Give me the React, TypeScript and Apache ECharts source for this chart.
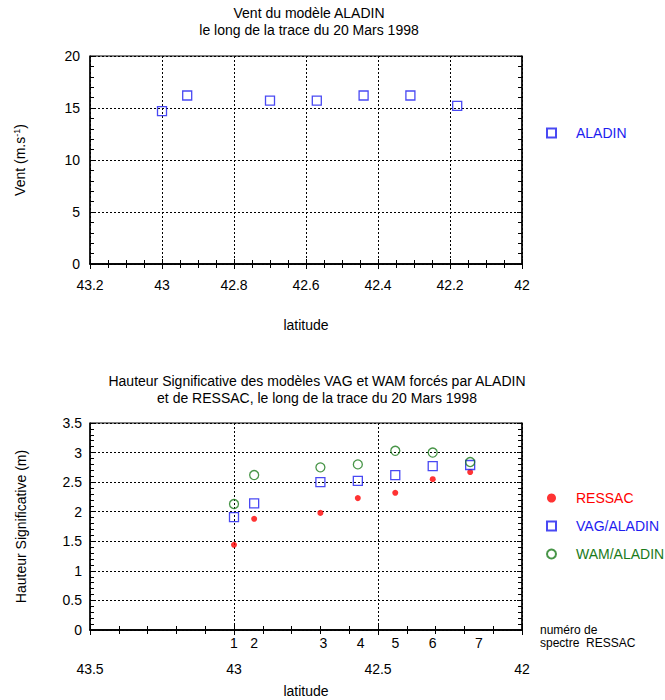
import React, { useEffect, useRef } from "react";
import * as echarts from "echarts";

// ---- Data ----
const latitudes = [43.0, 42.93, 42.7, 42.57, 42.44, 42.31, 42.18];
const aladinWind = [14.7, 16.2, 15.7, 15.7, 16.2, 16.2, 15.2];
const ressacHs = [1.44, 1.88, 1.98, 2.23, 2.32, 2.55, 2.67];
const vagHs = [1.91, 2.14, 2.5, 2.52, 2.62, 2.77, 2.79];
const wamHs = [2.13, 2.62, 2.75, 2.8, 3.03, 3.0, 2.84];
const spectrumNumbers = ["1", "2", "3", "4", "5", "6", "7"];
const spectrumLabelLat = [43.0, 42.93, 42.69, 42.56, 42.44, 42.31, 42.15];

const topTitle = "Vent du modèle ALADIN\nle long de la trace du 20 Mars 1998";
const bottomTitle =
  "Hauteur Significative des modèles VAG et WAM forcés par ALADIN\net de RESSAC, le long de la trace du 20 Mars 1998";

const FONT = "'Liberation Sans', Arial, sans-serif";
const RED = "#ff0000";
const BLUE = "#1c1cf0";
const GREEN = "#1a7a1a";

const pairs = (ys: number[]) => latitudes.map((x, i) => [x, ys[i]]);

const dashed = { show: true, lineStyle: { color: "#000", width: 1, type: [2, 2] as any } };
const axisLineBlack = { show: true, lineStyle: { color: "#000", width: 1.5 } };
const labelStyle = { color: "#000", fontSize: 14, fontFamily: FONT };

function tickAxis(extra: any) {
  return {
    type: "value",
    axisLine: axisLineBlack,
    axisTick: { show: true, inside: true, length: 5, lineStyle: { color: "#000" } },
    minorTick: { show: true, length: 4, lineStyle: { color: "#000" } },
    axisLabel: { show: false },
    splitLine: { show: false },
    ...extra,
  };
}

export default function App() {
  const ref = useRef<HTMLDivElement>(null);

  useEffect(() => {
    if (!ref.current) return;
    const chart = echarts.init(ref.current, null, { renderer: "svg" });

    const legendText = { fontSize: 14, fontFamily: FONT, padding: [0, 0, 0, 15] };

    const option: any = {
      animation: false,
      backgroundColor: "#fff",
      textStyle: { fontFamily: FONT },
      title: [
        {
          text: topTitle,
          left: 309,
          top: 5,
          padding: 0,
          textAlign: "center",
          textStyle: { fontSize: 14, fontWeight: "normal", color: "#000", lineHeight: 16.5, fontFamily: FONT },
        },
        {
          text: bottomTitle,
          left: 317,
          top: 372,
          padding: 0,
          textAlign: "center",
          textStyle: { fontSize: 14, fontWeight: "normal", color: "#000", lineHeight: 17, fontFamily: FONT },
        },
      ],
      legend: [
        {
          orient: "vertical",
          left: 546,
          top: 126,
          itemWidth: 9,
          itemHeight: 9,
          padding: 0,
          textStyle: legendText,
          data: [{ name: "ALADIN", textStyle: { color: BLUE } }],
        },
        {
          orient: "vertical",
          left: 546,
          top: 491,
          itemWidth: 9,
          itemHeight: 9,
          itemGap: 14,
          padding: 0,
          textStyle: legendText,
          data: [
            { name: "RESSAC", textStyle: { color: RED } },
            { name: "VAG/ALADIN", textStyle: { color: BLUE } },
            { name: "WAM/ALADIN", textStyle: { color: GREEN } },
          ],
        },
      ],
      grid: [
        { left: 90, top: 56, width: 432, height: 208, show: true, borderColor: "#000", borderWidth: 1 },
        { left: 90, top: 423, width: 432, height: 207, show: true, borderColor: "#000", borderWidth: 1 },
      ],
      xAxis: [
        tickAxis({
          gridIndex: 0,
          position: "bottom",
          min: 42,
          max: 43.2,
          interval: 0.2,
          inverse: true,
          minorTick: { show: true, splitNumber: 4, length: 4, lineStyle: { color: "#000" } },
          axisLabel: { show: true, margin: 14, ...labelStyle },
          splitLine: dashed,
          name: "latitude",
          nameLocation: "middle",
          nameGap: 54,
          nameTextStyle: { ...labelStyle },
        }),
        tickAxis({
          gridIndex: 0,
          position: "top",
          min: 42,
          max: 43.2,
          interval: 0.2,
          inverse: true,
          minorTick: { show: true, splitNumber: 4, length: 4, lineStyle: { color: "#000" } },
        }),
        tickAxis({
          gridIndex: 1,
          position: "bottom",
          min: 42,
          max: 43.5,
          interval: 0.5,
          inverse: true,
          minorTick: { show: true, splitNumber: 5, length: 4, lineStyle: { color: "#000" } },
          axisLabel: { show: true, margin: 32, ...labelStyle },
          splitLine: dashed,
          name: "latitude",
          nameLocation: "middle",
          nameGap: 54,
          nameTextStyle: { ...labelStyle },
        }),
        tickAxis({
          gridIndex: 1,
          position: "top",
          min: 42,
          max: 43.5,
          interval: 0.5,
          inverse: true,
          minorTick: { show: true, splitNumber: 5, length: 4, lineStyle: { color: "#000" } },
        }),
        {
          type: "value",
          gridIndex: 1,
          position: "bottom",
          min: 42,
          max: 43.5,
          inverse: true,
          axisLine: { show: false },
          axisTick: { show: false },
          splitLine: { show: false },
          axisLabel: {
            show: true,
            margin: 6,
            ...labelStyle,
            customValues: spectrumLabelLat,
            formatter: (v: number) => {
              const i = spectrumLabelLat.findIndex((l) => Math.abs(l - v) < 1e-6);
              return i >= 0 ? spectrumNumbers[i] : "";
            },
          },
        },
      ],
      yAxis: [
        tickAxis({
          gridIndex: 0,
          position: "left",
          min: 0,
          max: 20,
          interval: 5,
          minorTick: { show: true, splitNumber: 5, length: 4, lineStyle: { color: "#000" } },
          axisLabel: { show: true, margin: 10, ...labelStyle },
          splitLine: dashed,
          name: "Vent (m.s{sup|-1})",
          nameLocation: "middle",
          nameGap: 63,
          nameTextStyle: {
            ...labelStyle,
            rich: { sup: { fontSize: 9, verticalAlign: "top", color: "#000", fontFamily: FONT, padding: [0, 0, 6, 0] } },
          },
        }),
        tickAxis({
          gridIndex: 0,
          position: "right",
          min: 0,
          max: 20,
          interval: 5,
          minorTick: { show: true, splitNumber: 5, length: 4, lineStyle: { color: "#000" } },
        }),
        tickAxis({
          gridIndex: 1,
          position: "left",
          min: 0,
          max: 3.5,
          interval: 0.5,
          minorTick: { show: true, splitNumber: 5, length: 4, lineStyle: { color: "#000" } },
          axisLabel: { show: true, margin: 8, ...labelStyle },
          splitLine: dashed,
          name: "Hauteur Significative (m)",
          nameLocation: "middle",
          nameGap: 62,
          nameTextStyle: { ...labelStyle },
        }),
        tickAxis({
          gridIndex: 1,
          position: "right",
          min: 0,
          max: 3.5,
          interval: 0.5,
          minorTick: { show: true, splitNumber: 5, length: 4, lineStyle: { color: "#000" } },
        }),
      ],
      graphic: [
        {
          type: "text",
          left: 540,
          top: 623,
          style: {
            text: "numéro de\nspectre  RESSAC",
            fontSize: 12,
            lineHeight: 13.5,
            fontFamily: FONT,
            fill: "#000",
          },
        },
      ],
      series: [
        {
          name: "ALADIN",
          type: "scatter",
          xAxisIndex: 0,
          yAxisIndex: 0,
          symbol: "rect",
          symbolSize: 9,
          itemStyle: { color: "rgba(0,0,0,0)", borderColor: BLUE, borderWidth: 1.3 },
          data: pairs(aladinWind),
        },
        {
          name: "RESSAC",
          type: "scatter",
          xAxisIndex: 2,
          yAxisIndex: 2,
          symbol: "circle",
          symbolSize: 6,
          itemStyle: { color: RED },
          data: pairs(ressacHs),
        },
        {
          name: "VAG/ALADIN",
          type: "scatter",
          xAxisIndex: 2,
          yAxisIndex: 2,
          symbol: "rect",
          symbolSize: 9,
          itemStyle: { color: "rgba(0,0,0,0)", borderColor: BLUE, borderWidth: 1.3 },
          data: pairs(vagHs),
        },
        {
          name: "WAM/ALADIN",
          type: "scatter",
          xAxisIndex: 2,
          yAxisIndex: 2,
          symbol: "circle",
          symbolSize: 9,
          itemStyle: { color: "rgba(0,0,0,0)", borderColor: GREEN, borderWidth: 1.3 },
          data: pairs(wamHs),
        },
      ],
    };

    chart.setOption(option);
    return () => chart.dispose();
  }, []);

  return (
    <div
      ref={ref}
      style={{ position: "fixed", left: 0, top: 0, width: 665, height: 700, background: "#fff" }}
    />
  );
}
